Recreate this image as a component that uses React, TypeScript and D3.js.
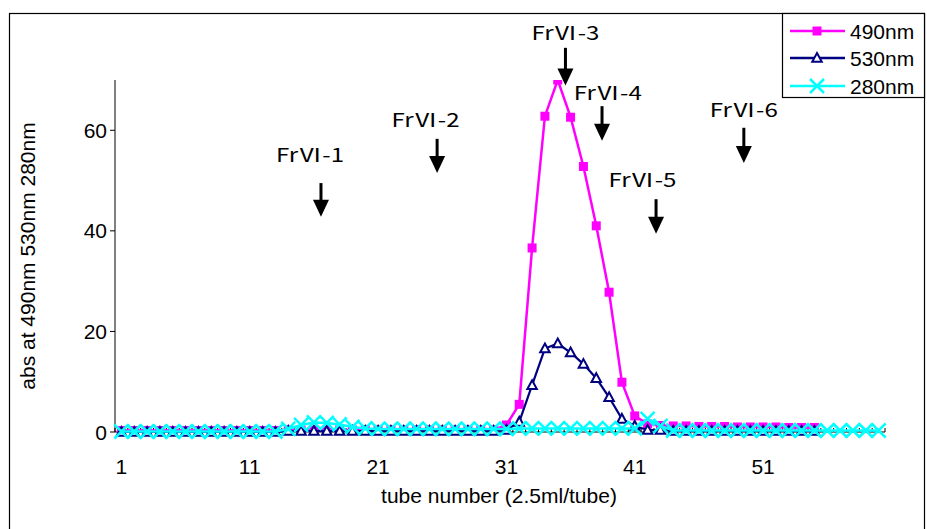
import React from "react";
import * as d3 from "d3";

const tubes490 = d3.range(1, 56);
const tubes530 = d3.range(1, 56);
const tubes280 = d3.range(1, 61);

const abs490 = [
  0.3, 0.3, 0.3, 0.3, 0.3, 0.3, 0.3, 0.3, 0.3, 0.3,
  0.3, 0.3, 0.3, 0.4, 0.4, 0.4, 0.4, 0.4, 0.4, 0.4,
  0.4, 0.4, 0.4, 0.4, 0.4, 0.4, 0.4, 0.4, 0.4, 0.4,
  1.4, 5.5, 36.6, 62.8, 70, 62.6, 52.8, 41, 27.8, 9.9,
  3.2, 1.6, 1.3, 1.2, 1.2, 1.1, 1.1, 1.1, 1.0, 1.0,
  1.0, 1.0, 0.9, 0.9, 0.9,
];
const abs530 = [
  0, 0, 0, 0, 0, 0, 0, 0, 0, 0,
  0, 0, 0, 0.2, 0.2, 0.2, 0.2, 0.2, 0.2, 0.2,
  0.2, 0.2, 0.2, 0.2, 0.2, 0.2, 0.2, 0.2, 0.2, 0.2,
  0.4, 2.0, 9.3, 16.6, 17.6, 15.8, 13.5, 10.7, 6.9, 2.6,
  1.2, 0.4, 0.4, 0.2, 0.2, 0.2, 0.2, 0.2, 0.2, 0.2,
  0.2, 0.2, 0.2, 0.2, 0.2,
];
const abs280 = [
  0.1, 0.1, 0.1, 0.1, 0.1, 0.1, 0.1, 0.1, 0.1, 0.1,
  0.1, 0.1, 0.1, 0.6, 1.4, 1.9, 1.8, 1.5, 1.0, 0.7,
  0.6, 0.6, 0.6, 0.6, 0.6, 0.6, 0.6, 0.6, 0.6, 0.6,
  0.6, 0.7, 0.7, 0.7, 0.7, 0.7, 0.7, 0.7, 0.7, 0.7,
  0.7, 2.6, 1.2, 0.3, 0.3, 0.3, 0.3, 0.3, 0.3, 0.3,
  0.3, 0.3, 0.3, 0.3, 0.3, 0.3, 0.3, 0.3, 0.3, 0.3,
];

const yTicks = [0, 20, 40, 60];
const xTickLabels = [1, 11, 21, 31, 41, 51];
const seriesNames = ["490nm", "530nm", "280nm"];

// annotations: label, arrow tube position, arrow top value, arrow tip value, label tube, label value
const annLabels = ["FrⅥ-1", "FrⅥ-2", "FrⅥ-3", "FrⅥ-4", "FrⅥ-5", "FrⅥ-6"];
const annTube = [16.55, 25.6, 35.6, 38.45, 42.66, 49.5];
const annTop = [49.5, 58.3, 76.4, 64.8, 46.3, 60.5];
const annTip = [42.8, 51.5, 68.9, 57.9, 39.4, 53.5];
const annTextTube = [15.7, 24.7, 35.6, 38.9, 41.6, 49.5];
const annTextVal = [53.6, 60.6, 77.9, 66.1, 48.8, 62.7];

const W = 927;
const H = 529;
const left = 115;
const right = 885;
const top = 80;
const bottom = 432;
const nCat = 60;

export default function App() {
  const step = (right - left) / nCat;
  const x = (t: number) => left + (t - 0.5) * step;
  const y = d3.scaleLinear().domain([0, 70]).range([bottom, top]);
  const line = d3
    .line<[number, number]>()
    .x((d) => x(d[0]))
    .y((d) => y(d[1]));

  const d490: [number, number][] = tubes490.map((t, i) => [t, abs490[i]]);
  const d530: [number, number][] = tubes530.map((t, i) => [t, abs530[i]]);
  const d280: [number, number][] = tubes280.map((t, i) => [t, abs280[i]]);

  const font = "'Liberation Sans', Arial, sans-serif";
  const sq = 4.5;
  const tri = (cx: number, cy: number, r = 5) =>
    `M${cx},${cy - r} L${cx + r * 0.95},${cy + r * 0.75} L${cx - r * 0.95},${cy + r * 0.75} Z`;
  const cross = (cx: number, cy: number, r = 7) =>
    `M${cx - r},${cy - r} L${cx + r},${cy + r} M${cx - r},${cy + r} L${cx + r},${cy - r}`;

  const catTicks = d3.range(0, nCat + 1);
  const legY = [31, 58, 86];

  return (
    <svg
      width={W}
      height={H}
      style={{ position: "absolute", left: 0, top: 0, background: "#fff" }}
    >
      <defs>
        <clipPath id="plot">
          <rect x={left - 10} y={top} width={right - left + 20} height={bottom - top + 20} />
        </clipPath>
      </defs>
      <rect x={0} y={0} width={W} height={H} fill="#fff" />
      <rect x={9.5} y={13.5} width={915} height={530} fill="none" stroke="#000" strokeWidth={1.2} />

      {/* y axis */}
      <line x1={left} x2={left} y1={top} y2={bottom} stroke="#000" strokeWidth={1} />
      {yTicks.map((v) => (
        <g key={v}>
          <line x1={left - 5} x2={left} y1={y(v)} y2={y(v)} stroke="#000" />
          <text
            x={left - 8}
            y={y(v)}
            dy="0.36em"
            textAnchor="end"
            fontFamily={font}
            fontSize={21}
          >
            {v}
          </text>
        </g>
      ))}
      <text
        transform={`translate(35,${(top + bottom) / 2}) rotate(-90)`}
        textAnchor="middle"
        fontFamily={font}
        fontSize={21}
      >
        abs at 490nm 530nm 280nm
      </text>

      {/* x axis */}
      <line x1={left} x2={right} y1={bottom} y2={bottom} stroke="#000" strokeWidth={1} />
      {catTicks.map((c) => (
        <line
          key={c}
          x1={left + c * step}
          x2={left + c * step}
          y1={bottom - 4}
          y2={bottom}
          stroke="#000"
        />
      ))}
      {xTickLabels.map((t) => (
        <text
          key={t}
          x={x(t)}
          y={474}
          textAnchor="middle"
          fontFamily={font}
          fontSize={21}
        >
          {t}
        </text>
      ))}
      <text
        x={(left + right) / 2 - 1}
        y={503}
        textAnchor="middle"
        fontFamily={font}
        fontSize={21}
      >
        tube number (2.5ml/tube)
      </text>

      <g clipPath="url(#plot)">
        <path d={line(d490) || ""} fill="none" stroke="#ff00ff" strokeWidth={2.5} />
        {d490.map((d, i) => (
          <rect
            key={i}
            x={x(d[0]) - sq}
            y={y(d[1]) - sq}
            width={sq * 2}
            height={sq * 2}
            fill="#ff00ff"
          />
        ))}
        <path d={line(d530) || ""} fill="none" stroke="#000080" strokeWidth={2.2} />
        {d530.map((d, i) => (
          <path
            key={i}
            d={tri(x(d[0]), y(d[1]))}
            fill="#fff"
            stroke="#000080"
            strokeWidth={2}
          />
        ))}
        <path d={line(d280) || ""} fill="none" stroke="#00ffff" strokeWidth={2.5} />
        {d280.map((d, i) => (
          <path
            key={i}
            d={cross(x(d[0]), y(d[1]))}
            fill="none"
            stroke="#00ffff"
            strokeWidth={2.5}
          />
        ))}
      </g>

      {/* annotations */}
      {annLabels.map((lab, i) => {
        const ax = x(annTube[i]);
        const y1 = y(annTop[i]);
        const y2 = y(annTip[i]);
        return (
          <g key={lab}>
            <text
              x={x(annTextTube[i])}
              y={y(annTextVal[i])}
              textAnchor="middle"
              fontFamily="'Noto Sans CJK JP', sans-serif"
              fontSize={19}
              textLength={68}
              lengthAdjust="spacingAndGlyphs"
            >
              {lab}
            </text>
            <line x1={ax} x2={ax} y1={y1} y2={y2 - 14} stroke="#000" strokeWidth={3} />
            <path
              d={`M${ax - 8},${y2 - 17} L${ax + 8},${y2 - 17} L${ax},${y2} Z`}
              fill="#000"
            />
          </g>
        );
      })}

      {/* legend */}
      <rect x={782.5} y={13.5} width={142} height={84} fill="#fff" stroke="#000" strokeWidth={1.2} />
      {seriesNames.map((s, i) => {
        const ly = legY[i];
        const lx1 = 790;
        const lx2 = 845;
        const cx = 817;
        const color = i === 0 ? "#ff00ff" : i === 1 ? "#000080" : "#00ffff";
        return (
          <g key={s}>
            <line x1={lx1} x2={lx2} y1={ly} y2={ly} stroke={color} strokeWidth={2.5} />
            {i === 0 && (
              <rect x={cx - sq} y={ly - sq} width={sq * 2} height={sq * 2} fill={color} />
            )}
            {i === 1 && <path d={tri(cx, ly)} fill="#fff" stroke={color} strokeWidth={2} />}
            {i === 2 && (
              <path d={cross(cx, ly, 7)} fill="none" stroke={color} strokeWidth={2.5} />
            )}
            <text x={850} y={ly} dy="0.36em" fontFamily={font} fontSize={21}>
              {s}
            </text>
          </g>
        );
      })}
    </svg>
  );
}
